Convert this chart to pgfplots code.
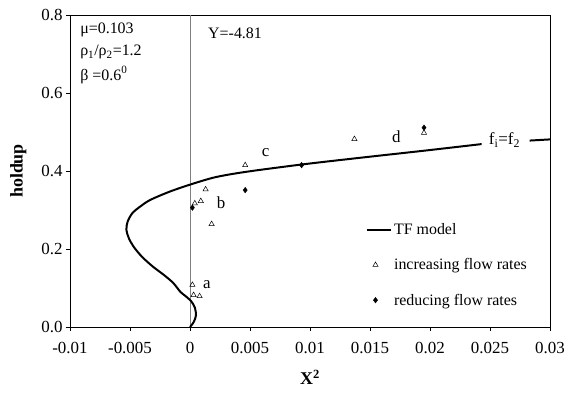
\documentclass[border=0pt]{standalone}
\usepackage{fontspec}
\setmainfont{Liberation Serif}
\usepackage{pgfplots}
\pgfplotsset{compat=1.18}
\pgfplotsset{longline legend/.style={legend image code/.code={\draw[##1] (0cm,0cm) -- (0.85cm,0cm);}}}
\begin{document}
\begin{tikzpicture}
\begin{axis}[
  scale only axis, width=480bp, height=312bp,
  xmin=-0.01, xmax=0.03, ymin=0, ymax=0.8,
  xtick={-0.01,-0.005,0,0.005,0.01,0.015,0.02,0.025,0.03},
  xticklabels={-0.01,-0.005,0,0.005,0.01,0.015,0.02,0.025,0.03},
  scaled x ticks=false,
  ytick={0,0.2,0.4,0.6,0.8},
  yticklabel style={/pgf/number format/.cd, fixed, fixed zerofill, precision=1, assume math mode=true},
  tick label style={font=\fontsize{17}{19}\selectfont},
  xticklabel style={yshift=-8bp},
  tick pos=left, tick align=outside, major tick length=4bp,
  axis line style={line width=0.8pt}, tick style={black, line width=0.8pt},
  xlabel={\textbf{X\textsuperscript{2}}}, ylabel={\textbf{holdup}},
  label style={font=\fontsize{18}{20}\selectfont},
  xlabel style={yshift=-9bp},
  ylabel style={yshift=8bp},
  legend style={draw=none, fill=none, at={(0.61,0.345)}, anchor=north west,
    font=\fontsize{16}{18}\selectfont, row sep=18.5bp},
  legend cell align=left,
]
\addplot[gray, line width=0.6pt, forget plot] coordinates {(0,0) (0,0.8)};
\addplot[black, line width=2pt, smooth, tension=0.5, longline legend] coordinates {
 (0,0) (0.0003,0.012) (0.0005,0.03) (0.0004,0.05) (0.0001,0.066) (-0.0004,0.08)
 (-0.0008,0.09) (-0.0014,0.113) (-0.0022,0.134) (-0.0031,0.155) (-0.0040,0.18)
 (-0.0047,0.206) (-0.0051,0.228) (-0.0053,0.249) (-0.0052,0.27) (-0.0048,0.292)
 (-0.0041,0.31) (-0.0033,0.326) (-0.0017,0.347) (0,0.365) (0.0021,0.384)
 (0.0047,0.398) (0.0094,0.417) (0.0145,0.435) (0.0195,0.452) (0.0243,0.469)};
\addlegendentry{TF model}
\addplot[only marks, mark=triangle, mark size=3pt, black, mark options={line width=0.5pt}] coordinates {
 (0.0046,0.415) (0.0013,0.353) (0.0009,0.323) (0.0004,0.317) (0.0018,0.264)
 (0.0002,0.108) (0.0003,0.082) (0.0008,0.079) (0.0137,0.482) (0.0195,0.498)};
\addlegendentry{increasing flow rates}
\addplot[only marks, mark=diamond*, mark size=2.8pt, black] coordinates {
 (0.0002,0.306) (0.0046,0.351) (0.0093,0.415) (0.0195,0.511)};
\addlegendentry{reducing flow rates}
\addplot[black, line width=2pt, forget plot] coordinates {(0.0283,0.478) (0.03,0.481)};
\node[anchor=west, font=\fontsize{16}{18}\selectfont, inner sep=0pt] at (rel axis cs:0.021,0.952) {μ=0.103};
\node[anchor=west, font=\fontsize{16}{18}\selectfont, inner sep=0pt] at (rel axis cs:0.021,0.881) {ρ\textsubscript{1}/ρ\textsubscript{2}=1.2};
\node[anchor=west, font=\fontsize{16}{18}\selectfont, inner sep=0pt] at (rel axis cs:0.021,0.808) {β =0.6\textsuperscript{0}};
\node[anchor=west, font=\fontsize{16}{18}\selectfont, inner sep=0pt] at (rel axis cs:0.2875,0.942) {Y=-4.81};
\node[font=\fontsize{17}{19}\selectfont] at (axis cs:0.0014,0.108) {a};
\node[font=\fontsize{17}{19}\selectfont] at (axis cs:0.0026,0.318) {b};
\node[font=\fontsize{17}{19}\selectfont] at (axis cs:0.0063,0.446) {c};
\node[font=\fontsize{17}{19}\selectfont] at (axis cs:0.0172,0.488) {d};
\node[font=\fontsize{17}{19}\selectfont] at (axis cs:0.0262,0.48) {f\textsubscript{i}=f\textsubscript{2}};
\end{axis}
\pgfresetboundingbox
\path ([shift={(-70bp,-67bp)}]current axis.south west) rectangle ([shift={(18bp,15bp)}]current axis.north east);
\end{tikzpicture}
\end{document}
